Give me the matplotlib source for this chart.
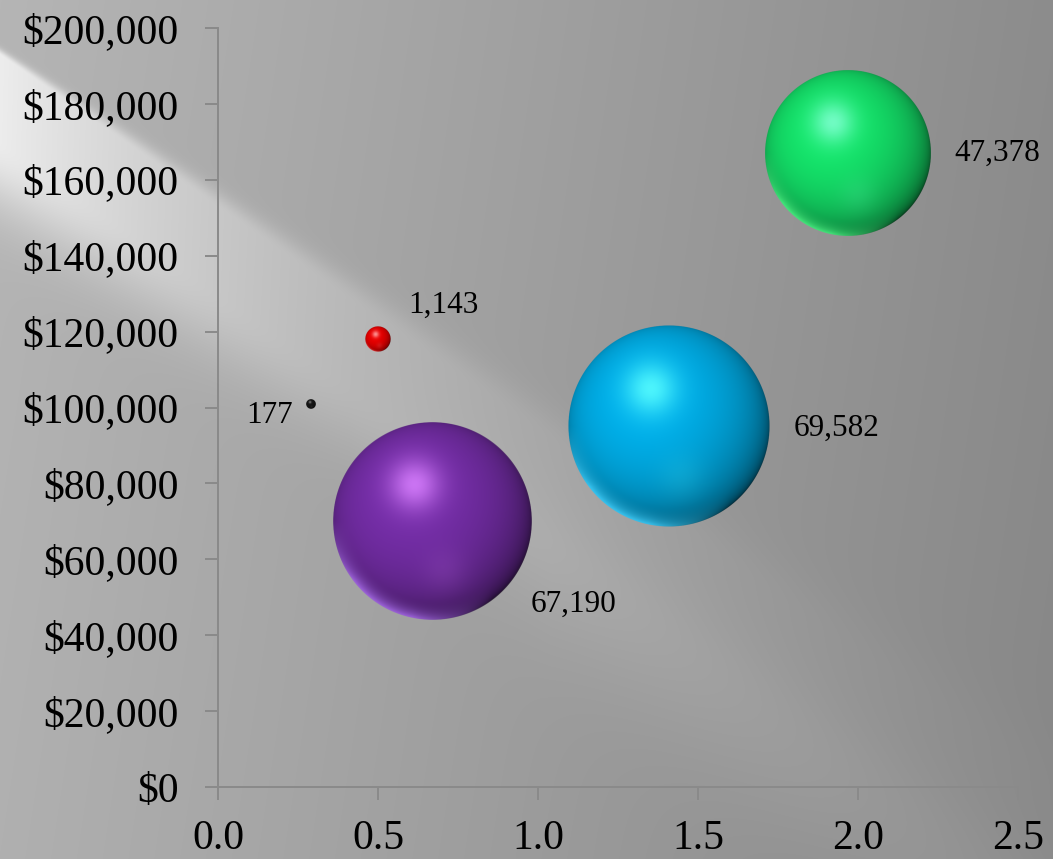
import numpy as np
import matplotlib
matplotlib.use("Agg")
import matplotlib.pyplot as plt
from matplotlib.ticker import FuncFormatter, MultipleLocator

# --- data ---
x_vals = [0.29, 0.50, 0.67, 1.41, 1.97]
y_vals = [101000, 118000, 70000, 95000, 167000]
sizes = [177, 1143, 67190, 69582, 47378]
labels = ["177", "1,143", "67,190", "69,582", "47,378"]

# colours: base, highlight, bottom rim
base_cols = [(0.08, 0.08, 0.08), (0.92, 0.0, 0.0), (0.46, 0.18, 0.66), (0.0, 0.69, 0.92), (0.08, 0.90, 0.42)]
hl_cols = [(0.55, 0.55, 0.55), (1.0, 0.65, 0.65), (0.85, 0.50, 1.0), (0.35, 1.0, 1.0), (0.50, 1.0, 0.82)]
rim_cols = [(0.25, 0.25, 0.25), (1.0, 0.3, 0.3), (0.66, 0.42, 0.92), (0.25, 0.82, 1.0), (0.30, 0.96, 0.52)]
label_off = [(-41, -12), (65, 34), (141, -83), (167, -2), (149, 0)]

W, H = 1053, 859
FONT = "Liberation Serif"
PX_PER_SQRT = 0.382  # bubble radius in px per sqrt(size)


def background():
    yy, xx = np.mgrid[0:H, 0:W].astype(float)
    base = 0.71 - 0.16 * xx / W - 0.02 * yy / H
    # bright diagonal streak, sharp upper edge that softens to the right
    d = (-0.7 * xx + (yy - 55)) / 1.22
    ew = 5 + xx / 25
    prof = np.where(d < 0, np.exp(-(d / ew) ** 2),
                    np.where(d > 70, np.exp(-((d - 70) / 55) ** 2), 1.0))
    amp = 0.22 * np.exp(-xx / 320)
    # soft faint streak further right
    d2 = (-0.75 * xx + (yy - 120)) / 1.25
    streak = 0.03 * np.exp(-((d2 - 40) / 70) ** 2) * np.clip((xx - 350) / 200, 0, 1)
    v = np.clip(base + amp * prof + streak, 0, 1)
    return np.dstack([v, v, v])


def sphere(R, base, hl, rim, ss=3):
    n = int(np.ceil(R)) * 2 + 2
    N = n * ss
    c = (N - 1) / 2
    yy, xx = np.mgrid[0:N, 0:N].astype(float)
    u = (xx - c) / (R * ss)
    v = -(yy - c) / (R * ss)
    r2 = u ** 2 + v ** 2
    z = np.sqrt(np.clip(1 - r2, 0, 1))
    L = np.array([-0.25, 0.3, 0.92])
    L = L / np.linalg.norm(L)
    dot = u * L[0] + v * L[1] + z * L[2]
    t = np.clip((dot + 0.35) / 1.35, 0, 1)
    shade = 0.12 + 0.9 * t ** 0.6
    base = np.array(base)
    col = base[None, None, :] * shade[..., None]
    # soft highlight
    g = np.exp(-((u + 0.18) ** 2 + (v - 0.37) ** 2) / (2 * 0.18 ** 2))
    col = col + (np.array(hl) - col) * g[..., None] * 0.85
    # lower reflection
    g2 = np.exp(-((u - 0.12) ** 2 + (v + 0.5) ** 2) / (2 * 0.16 ** 2))
    col = col + (np.array(hl) - col) * g2[..., None] * 0.12
    # bottom rim light
    rr = np.sqrt(r2)
    rimw = np.clip((rr - 0.8) / 0.19, 0, 1) ** 2 * np.clip(-v / 0.6, 0, 1) * np.clip((0.6 - u) / 0.8, 0, 1)
    col = col + (np.array(rim) - col) * rimw[..., None] * 0.85
    col = np.clip(col, 0, 1)
    alpha = np.clip((1 - rr) * R * ss / 1.5, 0, 1)
    img = np.dstack([col, alpha[..., None]])
    img = img.reshape(n, ss, n, ss, 4).mean(axis=(1, 3))
    return img, n / 2


fig = plt.figure(figsize=(W / 100, H / 100), dpi=100)
bg = fig.add_axes([0, 0, 1, 1], zorder=-10)
bg.imshow(background(), aspect="auto", extent=[0, 1, 0, 1])
bg.axis("off")

ax = fig.add_axes([218 / W, 1 - 787 / H, 800 / W, 759 / H])
ax.patch.set_alpha(0)
ax.set_xlim(0, 2.5)
ax.set_ylim(0, 200000)
ax.xaxis.set_major_locator(MultipleLocator(0.5))
ax.yaxis.set_major_locator(MultipleLocator(20000))
ax.xaxis.set_major_formatter(FuncFormatter(lambda v, p: f"{v:.1f}"))
ax.yaxis.set_major_formatter(FuncFormatter(lambda v, p: f"${v:,.0f}"))
for s in ["top", "right"]:
    ax.spines[s].set_visible(False)
for s in ["left", "bottom"]:
    ax.spines[s].set_color("#8a8a8a")
    ax.spines[s].set_linewidth(1.4)
ax.tick_params(axis="both", direction="out", length=9.5, width=1.4, color="#8a8a8a",
               labelsize=30, labelcolor="black")
ax.tick_params(axis="x", pad=14)
ax.tick_params(axis="y", pad=19)
for lab in ax.get_xticklabels() + ax.get_yticklabels():
    lab.set_fontfamily(FONT)

inv = ax.transData.inverted()
for xv, yv, sz, lab, bc, hc, rc, off in zip(x_vals, y_vals, sizes, labels,
                                             base_cols, hl_cols, rim_cols, label_off):
    R = PX_PER_SQRT * np.sqrt(sz)
    img, half = sphere(R, bc, hc, rc)
    cx, cy = ax.transData.transform((xv, yv))
    x0, y0 = inv.transform((cx - half, cy - half))
    x1, y1 = inv.transform((cx + half, cy + half))
    ax.imshow(img, extent=[x0, x1, y0, y1], aspect="auto", interpolation="bilinear",
              zorder=3, clip_on=False)
    ax.annotate(lab, (xv, yv), xytext=off, textcoords="offset pixels",
                ha="center", va="center", fontsize=22.5, fontfamily=FONT, zorder=4)

ax.set_xlim(0, 2.5)
ax.set_ylim(0, 200000)
fig.savefig("out.png", dpi=100)
